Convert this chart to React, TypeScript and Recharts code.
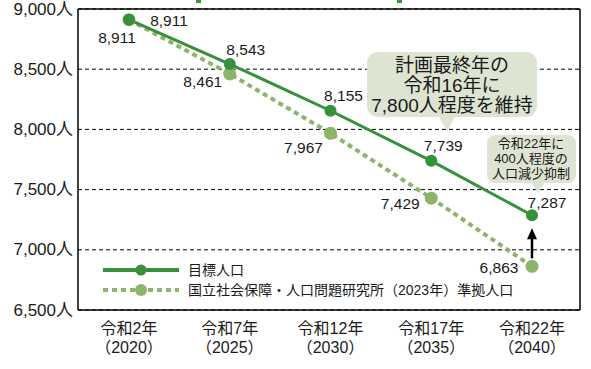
import React from 'react';
import { LineChart, Line, XAxis, YAxis, CartesianGrid, LabelList, Legend, ReferenceLine } from 'recharts';

const eras = ['令和2年', '令和7年', '令和12年', '令和17年', '令和22年'];
const years = ['（2020）', '（2025）', '（2030）', '（2035）', '（2040）'];
const targetValues = [8911, 8543, 8155, 7739, 7287];
const projectedValues = [8911, 8461, 7967, 7429, 6863];
const yTicks = [6500, 7000, 7500, 8000, 8500, 9000];
const targetName = '目標人口';
const projectedName = '国立社会保障・人口問題研究所（2023年）準拠人口';
const bubbleMain = ['計画最終年の', '令和16年に', '7,800人程度を維持'];
const bubbleSmall = ['令和22年に', '400人程度の', '人口減少抑制'];

const data = eras.map((era, i) => ({
  era,
  year: years[i],
  target: targetValues[i],
  projected: projectedValues[i],
}));

const FONT = "'Liberation Sans', 'Noto Sans CJK JP', sans-serif";
const DARK = '#37913a';
const LIGHT = '#8db46b';
const BUBBLE = '#dde4d1';

// label offsets (styling)
const targetOffsets = [[40, 1], [16, -15], [13, -15], [12, -15], [15, -13]];
const projOffsets = [[-12, 18], [-27, 8], [-27, 14], [-31, 5], [-33, 1]];

const makeLabel = (offsets: number[][]) => (props: any) => {
  const { x, y, value, index } = props;
  const [dx, dy] = offsets[index] || [0, 0];
  return (
    <text x={x + dx} y={y + dy} textAnchor="middle" dominantBaseline="central"
      fontFamily={FONT} fontSize={15.5} fill="#1a1a1a">
      {Number(value).toLocaleString('en-US')}
    </text>
  );
};

const XTick = (props: any) => {
  const { x, y, payload, index } = props;
  return (
    <g>
      <text x={x} y={y + 10} textAnchor="middle" dominantBaseline="central" fontFamily={FONT} fontSize={16} fill="#1a1a1a">
        {payload.value}
      </text>
      <text x={x} y={y + 29} textAnchor="middle" dominantBaseline="central" fontFamily={FONT} fontSize={16} fill="#1a1a1a">
        {years[index]}
      </text>
    </g>
  );
};

const YTick = (props: any) => {
  const { x, y, payload } = props;
  return (
    <text x={x + 3} y={y} textAnchor="end" dominantBaseline="central" fontFamily={FONT} fontSize={17} fill="#1a1a1a">
      {Number(payload.value).toLocaleString('en-US') + '人'}
    </text>
  );
};

const LegendContent = () => (
  <svg width={460} height={40} style={{ display: 'block' }}>
    <line x1={3} y1={10} x2={79} y2={10} stroke={DARK} strokeWidth={4} />
    <circle cx={41} cy={10} r={5.5} fill={DARK} />
    <text x={88} y={10} dominantBaseline="central" fontFamily={FONT} fontSize={14} fill="#1a1a1a">{targetName}</text>
    <line x1={3} y1={30} x2={79} y2={30} stroke={LIGHT} strokeWidth={4} strokeDasharray="5 4" />
    <circle cx={41} cy={30} r={6} fill={LIGHT} />
    <text x={88} y={30} dominantBaseline="central" fontFamily={FONT} fontSize={14} fill="#1a1a1a">{projectedName}</text>
  </svg>
);

const ArrowShape = (props: any) => {
  const { x1, y1, x2, y2 } = props;
  const x = (x1 + x2) / 2;
  const low = Math.max(y1, y2);
  const high = Math.min(y1, y2);
  const start = low - 8;
  const tip = high + 13;
  return (
    <g>
      <line x1={x} y1={start} x2={x} y2={tip + 8} stroke="#000" strokeWidth={2.5} />
      <path d={`M ${x} ${tip} L ${x - 5} ${tip + 11} L ${x + 5} ${tip + 11} Z`} fill="#000" />
    </g>
  );
};

export default function App() {
  return (
    <div style={{ position: 'relative', width: 591, height: 369, background: '#fff' }}>
      <style>{'body{margin:0}'}</style>
      <LineChart width={591} height={369} data={data} margin={{ top: 9, right: 11, left: 0, bottom: 9 }}>
        <CartesianGrid horizontal vertical={false} stroke="#000" strokeDasharray="4 3" strokeWidth={1} />
        <CartesianGrid stroke="#000" strokeWidth={1.5}
          horizontalCoordinatesGenerator={({ offset }: any) => [offset.top]}
          verticalCoordinatesGenerator={({ offset }: any) => [offset.left + offset.width]} />
        <XAxis dataKey="era" padding={{ left: 51, right: 48 }} tick={<XTick />} tickLine={false}
          axisLine={{ stroke: '#000', strokeWidth: 1.5 }} height={50} interval={0} />
        <YAxis domain={[6500, 9000]} ticks={yTicks} tick={<YTick />} tickLine={false} width={78}
          axisLine={{ stroke: '#000', strokeWidth: 1.5 }} interval={0} />
        <Legend layout="vertical" verticalAlign="middle" align="center" content={<LegendContent />}
          wrapperStyle={{ position: 'absolute', left: 100, top: 260, width: 460, height: 40 }} />
        <ReferenceLine segment={[{ x: eras[4], y: projectedValues[4] }, { x: eras[4], y: targetValues[4] }]}
          shape={<ArrowShape />} ifOverflow="visible" />
        <Line type="linear" dataKey="projected" name={projectedName} stroke={LIGHT} strokeWidth={4}
          strokeDasharray="5 4" dot={{ r: 6.5, fill: LIGHT, stroke: 'none' }} isAnimationActive={false}>
          <LabelList dataKey="projected" content={makeLabel(projOffsets)} />
        </Line>
        <Line type="linear" dataKey="target" name={targetName} stroke={DARK} strokeWidth={3}
          dot={{ r: 6, fill: DARK, stroke: 'none' }} isAnimationActive={false}>
          <LabelList dataKey="target" content={makeLabel(targetOffsets)} />
        </Line>
      </LineChart>
      <svg width={591} height={369} style={{ position: 'absolute', left: 0, top: 0, pointerEvents: 'none' }}>
        <rect x={196} y={0} width={5} height={3} fill="#3a9a3a" />
        <rect x={397} y={0} width={5} height={3} fill="#3a9a3a" />
        <rect x={367} y={52} width={170} height={65} rx={11} fill={BUBBLE} />
        <path d="M 439 116 L 455 116 L 447 132 Z" fill={BUBBLE} />
        {bubbleMain.map((t, i) => (
          <text key={i} x={452} y={65 + i * 20} textAnchor="middle" dominantBaseline="central"
            fontFamily={FONT} fontSize={19} fill="#1a1a1a">{t}</text>
        ))}
        <rect x={487} y={135} width={89} height={48} rx={8} fill={BUBBLE} />
        <path d="M 531 182 L 545 182 L 538 193 Z" fill={BUBBLE} />
        {bubbleSmall.map((t, i) => (
          <text key={i} x={531} y={143 + i * 15} textAnchor="middle" dominantBaseline="central"
            fontFamily={FONT} fontSize={13} fill="#1a1a1a">{t}</text>
        ))}
      </svg>
    </div>
  );
}
